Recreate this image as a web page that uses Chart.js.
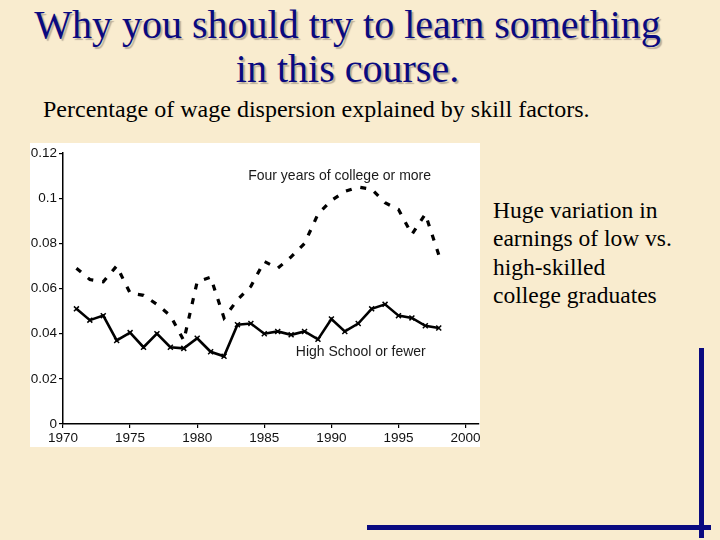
<!DOCTYPE html>
<html><head><meta charset="utf-8">
<script src="https://cdn.jsdelivr.net/npm/chart.js@4"></script>
<style>
html,body{margin:0;padding:0;}
body{width:720px;height:540px;position:relative;overflow:hidden;background:#F9ECCF;font-family:"Liberation Serif","Times New Roman",serif;}
.t{position:absolute;left:0;width:695px;text-align:center;color:#0A0A80;font-size:40px;line-height:40px;text-shadow:2px 2px 1px rgba(110,100,90,0.45);white-space:nowrap;}
.sub{position:absolute;left:43px;top:97px;font-size:24px;line-height:24px;color:#000;white-space:nowrap;}
.side{position:absolute;left:493px;top:196px;font-size:23.5px;line-height:28.4px;color:#000;white-space:nowrap;}
#box{position:absolute;left:30px;top:143px;width:450px;height:304px;background:#fff;}
#c{position:absolute;left:0;top:0;}
.bl{position:absolute;background:#0A0A80;}
</style></head>
<body>
<div class="t" style="top:4.5px">Why you should try to learn something</div>
<div class="t" style="top:48.5px">in this course.</div>
<div class="sub">Percentage of wage dispersion explained by skill factors.</div>
<div id="box"><canvas id="c" width="462" height="304"></canvas></div>
<div class="side">Huge variation in<br>earnings of low vs.<br>high-skilled<br>college graduates</div>
<div class="bl" style="left:699px;top:348px;width:5px;height:190px;"></div>
<div class="bl" style="left:367px;top:525px;width:344px;height:5px;"></div>
<script>
const years = [1971,1972,1973,1974,1975,1976,1977,1978,1979,1980,1981,1982,1983,1984,1985,1986,1987,1988,1989,1990,1991,1992,1993,1994,1995,1996,1997,1998];
const college = [0.069,0.064,0.063,0.070,0.058,0.057,0.053,0.048,0.037,0.063,0.065,0.047,0.055,0.061,0.072,0.069,0.074,0.080,0.093,0.099,0.103,0.105,0.104,0.098,0.095,0.084,0.093,0.075];
const highSchool = [0.051,0.046,0.048,0.037,0.0405,0.034,0.040,0.034,0.0335,0.038,0.032,0.030,0.044,0.0445,0.040,0.041,0.0395,0.041,0.0375,0.0465,0.041,0.0445,0.051,0.053,0.048,0.047,0.0435,0.0425];
const xTicks = [1970,1975,1980,1985,1990,1995,2000];
const yTicks = [0,0.02,0.04,0.06,0.08,0.1,0.12];
const seriesNames = ["Four years of college or more","High School or fewer"];

const labelPlugin = {
  id:'labels',
  afterDatasetsDraw(chart){
    const {ctx, scales:{x,y}} = chart;
    ctx.save();
    ctx.font = '14px "Liberation Sans", Arial, sans-serif';
    ctx.fillStyle = '#1a1a1a';
    ctx.textAlign = 'left';
    ctx.textBaseline = 'middle';
    ctx.fillText(seriesNames[0], x.getPixelForValue(1983.8), y.getPixelForValue(0.1098));
    ctx.fillText(seriesNames[1], x.getPixelForValue(1987.35), y.getPixelForValue(0.0317));
    ctx.restore();
  }
};

const tickFont = {family:'"Liberation Sans", Arial, sans-serif', size:13.5};

new Chart(document.getElementById('c'), {
  type:'line',
  data:{datasets:[
    {label:seriesNames[0], data:years.map((v,i)=>({x:v,y:college[i]})), borderColor:'#000', borderWidth:3.2, borderDash:[6,9], pointRadius:0, tension:0, fill:false},
    {label:seriesNames[1], data:years.map((v,i)=>({x:v,y:highSchool[i]})), borderColor:'#000', borderWidth:2.6, pointStyle:'crossRot', pointRadius:3.5, pointBorderWidth:1.5, pointBorderColor:'#000', pointBackgroundColor:'#000', tension:0, fill:false}
  ]},
  options:{
    responsive:false, animation:false,
    layout:{padding:{top:8,right:13,left:0,bottom:0}},
    plugins:{legend:{display:false}, tooltip:{enabled:false}},
    scales:{
      x:{type:'linear', min:1970, max:2001,
        afterBuildTicks(s){ s.ticks = xTicks.map(v=>({value:v})); },
        afterFit(s){ s.height = 23; },
        grid:{drawOnChartArea:false, drawTicks:true, tickLength:4, color:'#000', lineWidth:1.2},
        border:{display:true, color:'#000', width:1.5},
        ticks:{font:tickFont, color:'#111', padding:2, maxRotation:0, autoSkip:false, callback:v=>String(v)}
      },
      y:{type:'linear', min:0, max:0.12,
        afterBuildTicks(s){ s.ticks = yTicks.map(v=>({value:v})); },
        afterFit(s){ s.width = 33; },
        grid:{drawOnChartArea:false, drawTicks:true, tickLength:4, color:'#000', lineWidth:1.2},
        border:{display:true, color:'#000', width:1.5},
        ticks:{font:tickFont, color:'#111', padding:2, callback:v=>String(+(+v).toFixed(2))}
      }
    }
  },
  plugins:[labelPlugin]
});
</script>
</body></html>
